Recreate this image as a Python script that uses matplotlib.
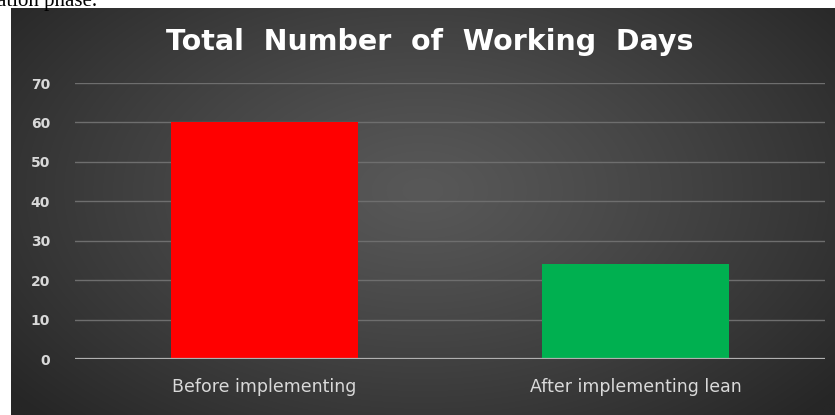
import numpy as np
import matplotlib
matplotlib.use("Agg")
import matplotlib.pyplot as plt

# chart data
categories = ["Before implementing", "After implementing lean"]
working_days = [60, 24]
bar_colors = ["#ff0000", "#00b050"]
y_ticks = [0, 10, 20, 30, 40, 50, 60, 70]

W, H = 835, 415
fig = plt.figure(figsize=(W / 100, H / 100), dpi=100, facecolor="white")

# leftover caption text from the page above the chart
fig.text(-0.004, 1 - 6 / H, "ation phase.", family="Liberation Serif",
         fontsize=15, color="black", va="baseline", ha="left")

# dark radial gradient panel
bg = fig.add_axes([11 / W, 0, 1 - 11 / W, 1 - 8 / H])
bg.set_axis_off()
nx, ny = 420, 210
xx, yy = np.meshgrid(np.linspace(0, 1, nx), np.linspace(0, 1, ny))
r = np.sqrt(((xx - 0.5) / 0.65) ** 2 + ((yy - 0.45) / 0.8) ** 2)
r = np.clip(r, 0, 1)
c_mid, c_edge = 0x58 / 255, 0x26 / 255
img = c_mid + (c_edge - c_mid) * r ** 1.2
bg.imshow(np.dstack([img, img, img]), aspect="auto", extent=[0, 1, 0, 1],
          interpolation="bilinear")
bg.set_xlim(0, 1)
bg.set_ylim(0, 1)

# main plot
ax = fig.add_axes([75 / W, 1 - 359 / H, 750 / W, 276 / H])
ax.patch.set_alpha(0)
x = np.arange(len(categories))
ax.bar(x, working_days, width=0.505, color=bar_colors, zorder=3)
ax.set_xlim(-0.51, 1.51)
ax.set_ylim(0, 70)
ax.set_yticks(y_ticks)
ax.set_xticks(x)
ax.set_xticklabels(categories)
ax.grid(axis="y", color="#6e6e6e", linewidth=1, zorder=1)
ax.axhline(0, color="#b0b0b0", linewidth=1.6, zorder=4)
for s in ax.spines.values():
    s.set_visible(False)
ax.tick_params(axis="both", length=0, colors="#d9d9d9")
ax.tick_params(axis="y", pad=18, labelsize=10)
ax.tick_params(axis="x", pad=14, labelsize=12.5)
for lbl in ax.get_yticklabels():
    lbl.set_fontweight("bold")

fig.text(0.515, 1 - 42 / H, "Total  Number  of  Working  Days", ha="center",
         va="center", fontsize=20.5, fontweight="bold", color="white")

fig.savefig("out.png", dpi=100, facecolor="white")
